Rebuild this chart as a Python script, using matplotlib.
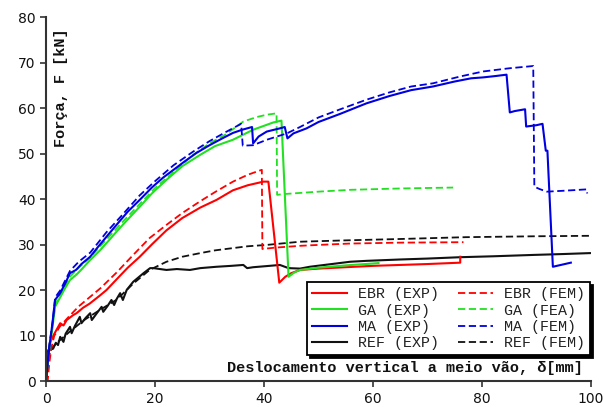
import matplotlib
matplotlib.use("Agg")
import matplotlib.pyplot as plt

# ---- data ----
ebr_exp_x = [0, 0.3, 0.7, 1.3, 2.0, 2.6, 3.2, 3.8, 5.0, 5.6, 6.8, 8.0, 9.9, 11.1, 13, 15, 17.2, 19.5, 22.1, 25, 28.3, 31.3, 34.3, 37, 39.9, 40.8, 42.8, 43.9, 45, 46.6, 50, 55, 60, 65, 70, 76, 76]
ebr_exp_y = [0, 4, 8.4, 10, 11.5, 12.8, 12.3, 13.5, 14.6, 15.0, 16.2, 17.1, 18.9, 20.1, 22.5, 25, 27.4, 30.2, 33.2, 35.9, 38.2, 39.9, 42.0, 43.1, 43.9, 43.9, 21.7, 23.0, 23.8, 24.5, 24.8, 25.1, 25.4, 25.6, 25.8, 26.1, 27.4]

ebr_fem_x = [0, 0.3, 0.6, 1, 1.5, 2.5, 4, 6, 8, 10, 13, 16, 19, 22.1, 25, 28.3, 31, 34.3, 37, 39.6, 39.7, 42, 46.6, 50, 55.8, 65, 76.6]
ebr_fem_y = [0, 0, 4, 7.5, 10, 12, 14, 16.5, 18.5, 20.5, 24, 27.8, 31.5, 34.4, 37, 39.6, 41.6, 43.9, 45.4, 46.5, 29.1, 29.4, 29.8, 30.0, 30.3, 30.5, 30.6]

ga_exp_x = [0, 0.3, 0.7, 1.2, 1.65, 2.6, 3.5, 4.4, 5.6, 6.5, 8.1, 9.9, 11.1, 13, 15, 17.2, 19.5, 22.1, 25, 28.3, 31, 34.3, 38, 41.7, 43.2, 44.5, 45.5, 46.6, 50, 55, 61]
ga_exp_y = [0, 4, 8, 12, 16.4, 18.5, 20.5, 22.3, 23.5, 24.6, 26.7, 28.8, 30.4, 33, 35.6, 38.4, 41.4, 44.3, 47.3, 49.8, 51.7, 53.1, 55.3, 56.9, 57.3, 23.0, 23.9, 24.5, 25.0, 25.5, 26.0]

ga_fem_x = [0, 0.3, 0.7, 1.2, 1.7, 2.6, 4.4, 6, 8.1, 11.1, 14, 17.2, 20, 23.4, 27, 30, 33, 36.2, 38.7, 40.5, 42.3, 42.4, 44, 50, 55.8, 65, 74.7]
ga_fem_y = [0, 4.5, 8.5, 12.5, 17, 19, 23, 25, 27.3, 31.2, 35, 39, 42.5, 46, 49.8, 52.3, 54.3, 57.1, 58.1, 58.6, 58.9, 41.0, 41.2, 41.7, 42.1, 42.4, 42.6]

ma_exp_x = [0, 0.3, 0.7, 1.2, 1.65, 2.6, 3.5, 4.4, 5.5, 6.5, 8.1, 9.5, 11.1, 13, 15, 17.2, 19.5, 21.5, 23.4, 25.5, 27.6, 30, 32.5, 34.3, 36, 37.8, 38.0, 39, 40.5, 42.9, 43.8, 44.3, 45.4, 47.8, 50, 54, 58.8, 63, 67, 71, 75, 78, 80.2, 82.5, 84.5, 85.1, 86, 87.9, 88.1, 90, 91.1, 91.7, 92.0, 93.0, 96.3]
ma_exp_y = [0, 4, 8.4, 13, 17.9, 19.4, 21.5, 23.8, 24.5, 25.8, 27.4, 29.5, 31.8, 34.5, 37.3, 39.9, 42.7, 44.8, 46.5, 48.4, 50.2, 51.9, 53.5, 54.6, 55.3, 55.9, 52.3, 53.8, 54.9, 55.6, 55.9, 53.4, 54.5, 55.6, 57, 58.8, 61.1, 62.7, 64, 64.8, 65.9, 66.6, 66.8, 67.1, 67.4, 59.1, 59.4, 59.8, 56.0, 56.3, 56.6, 50.7, 50.7, 25.2, 26.1]

ma_fem_x = [0, 0.5, 1.2, 1.7, 2.6, 4.4, 6, 8.1, 11.1, 14, 17.2, 20, 23.4, 27, 30, 33, 35.8, 36.1, 38, 40.5, 44.2, 46.6, 50, 54, 58.8, 63, 67, 71, 76, 80.2, 85, 89.4, 89.6, 90.5, 91.9, 95, 99.2, 99.3]
ma_fem_y = [0, 7, 13, 18.5, 20, 24.3, 26.3, 28.3, 32.8, 36.6, 40.9, 44, 47.5, 50.5, 52.8, 54.8, 56.6, 51.8, 51.9, 53.1, 54.5, 55.9, 58, 59.8, 61.9, 63.5, 64.8, 65.5, 67, 68.1, 68.8, 69.3, 42.8, 42.3, 41.7, 41.9, 42.2, 41.3]

ref_exp_x = [0, 0.2, 0.4, 0.8, 1.3, 1.8, 2.2, 2.6, 3.2, 3.6, 4.4, 4.7, 5.3, 6.2, 6.5, 7.3, 8.1, 8.4, 9.2, 10.2, 10.5, 11.3, 12.0, 12.5, 13.0, 13.6, 14.1, 14.8, 16.0, 17.9, 19.1, 19.7, 22.1, 24, 26.4, 28.3, 31.3, 34, 36.2, 36.9, 38, 41, 42.9, 44.5, 46.6, 48.4, 55.8, 58.8, 65, 70, 76, 82, 89.4, 95, 99.8]
ref_exp_y = [0, 3.5, 6.9, 7.0, 7.2, 8.5, 8.0, 9.8, 8.7, 10.5, 12.0, 10.6, 12.2, 14.2, 12.8, 14.0, 15.0, 13.5, 14.8, 16.4, 15.3, 16.6, 17.9, 16.8, 18.2, 19.4, 17.9, 20.1, 21.9, 23.8, 24.9, 24.9, 24.5, 24.7, 24.5, 24.9, 25.2, 25.4, 25.6, 24.9, 25.1, 25.4, 25.6, 24.9, 24.8, 25.2, 26.3, 26.5, 26.8, 27.0, 27.3, 27.5, 27.8, 28.0, 28.2]

ref_fem_x = [0, 0.3, 0.8, 2, 4.4, 7, 10, 13, 16, 19, 22.1, 25, 28.3, 31, 34.3, 37, 40.5, 46.6, 55, 65, 77, 90, 99.8]
ref_fem_y = [0, 4, 7, 8.5, 11.0, 13.5, 15.8, 18.0, 21.5, 24.5, 26.3, 27.4, 28.2, 28.8, 29.3, 29.7, 30.0, 30.7, 31.0, 31.3, 31.7, 31.9, 32.0]

x_ticks = [0, 20, 40, 60, 80, 100]
y_ticks = [0, 10, 20, 30, 40, 50, 60, 70, 80]

RED = "#ff0000"
GREEN = "#22e022"
BLUE = "#0000e0"
BLACK = "#111111"

fig = plt.figure(figsize=(6.04, 4.07), dpi=100)
ax = fig.add_axes([0.0762, 0.0627, 0.9023, 0.8948])

lw_s = 1.5
lw_d = 1.3
dash = (4, 2)

h = {}
h['ref_fem'], = ax.plot(ref_fem_x, ref_fem_y, color=BLACK, lw=lw_d, dashes=dash, label="REF (FEM)")
h['ref_exp'], = ax.plot(ref_exp_x, ref_exp_y, color=BLACK, lw=lw_s, label="REF (EXP)")
h['ebr_fem'], = ax.plot(ebr_fem_x, ebr_fem_y, color=RED, lw=lw_d, dashes=dash, label="EBR (FEM)")
h['ebr_exp'], = ax.plot(ebr_exp_x, ebr_exp_y, color=RED, lw=lw_s, label="EBR (EXP)")
h['ga_fem'], = ax.plot(ga_fem_x, ga_fem_y, color=GREEN, lw=lw_d, dashes=dash, label="GA (FEA)")
h['ga_exp'], = ax.plot(ga_exp_x, ga_exp_y, color=GREEN, lw=lw_s, label="GA (EXP)")
h['ma_fem'], = ax.plot(ma_fem_x, ma_fem_y, color=BLUE, lw=lw_d, dashes=dash, label="MA (FEM)")
h['ma_exp'], = ax.plot(ma_exp_x, ma_exp_y, color=BLUE, lw=lw_s, label="MA (EXP)")

ax.set_xlim(0, 100)
ax.set_ylim(0, 80)
ax.set_xticks(x_ticks)
ax.set_yticks(y_ticks)
for s in ['top', 'right']:
    ax.spines[s].set_visible(False)
for s in ['left', 'bottom']:
    ax.spines[s].set_color('#333333')
    ax.spines[s].set_linewidth(1.5)
ax.tick_params(direction='out', length=4, width=1.2, color='#333333',
               labelsize=10, labelcolor='#111111')
for t in ax.get_xticklabels() + ax.get_yticklabels():
    t.set_fontfamily('DejaVu Sans')

mono = 'Liberation Mono'
ax.text(2.75, 64.5, "Força, F [kN]", rotation=90, ha='center', va='center',
        fontfamily=mono, fontweight='bold', fontsize=11, color='#111111')
ax.text(98.5, 3.0, "Deslocamento vertical a meio vão, δ[mm]", ha='right', va='center',
        fontfamily=mono, fontweight='bold', fontsize=11, color='#111111')

order = ['ebr_exp', 'ga_exp', 'ma_exp', 'ref_exp', 'ebr_fem', 'ga_fem', 'ma_fem', 'ref_fem']
leg = ax.legend([h[k] for k in order], [h[k].get_label() for k in order],
                ncol=2, loc='upper left', bbox_to_anchor=(0.479, 0.273),
                prop={'family': mono, 'size': 10.8},
                fancybox=False, shadow={'color': 'black', 'alpha': 1.0},
                frameon=True, framealpha=1, edgecolor='black',
                handlelength=2.33, handletextpad=0.7, columnspacing=1.3,
                labelspacing=0.15, borderpad=0.35, borderaxespad=0)
leg.get_frame().set_linewidth(1.3)
for t in leg.get_texts():
    t.set_color('#222222')
leg.set_zorder(5)

fig.savefig("out.png", dpi=100)
